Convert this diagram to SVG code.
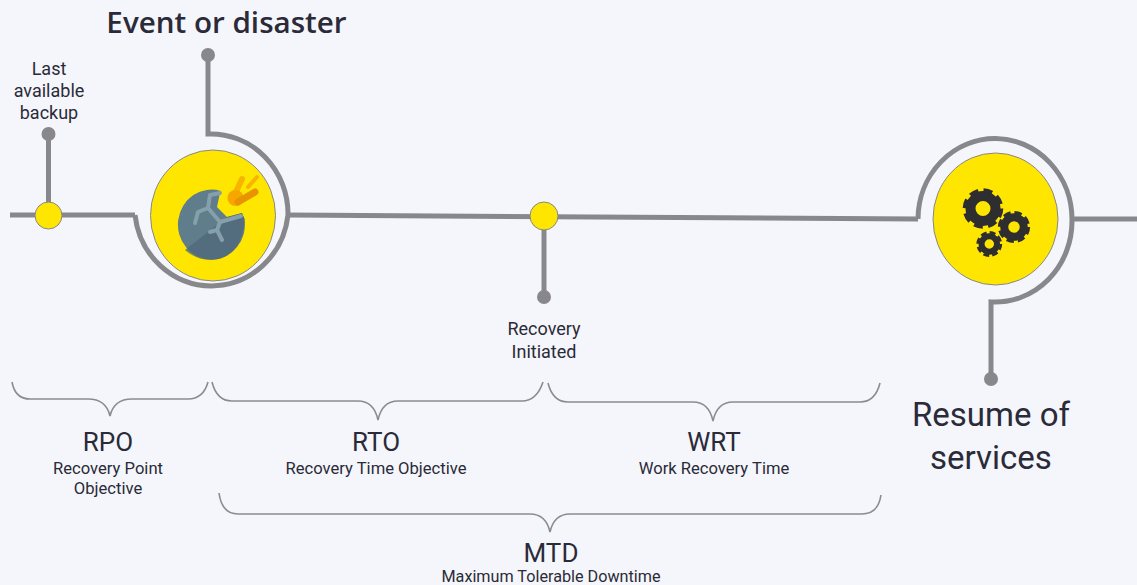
<svg xmlns="http://www.w3.org/2000/svg" width="1137" height="585" viewBox="0 0 1137 585">
<style>
.ln{fill:none;stroke:#87878c;stroke-width:5}
.br{fill:none;stroke:#8c8c90;stroke-width:1.6}
.dot{fill:#87878c}
.yl{fill:#ffe600;stroke:#87878c;stroke-width:1}
text{font-family:Roboto,"Liberation Sans",sans-serif;text-anchor:middle;fill:#2a2a38}
.s{font-size:18px}
.m{font-size:26px}
.t{font-size:16.6px}
.g{fill:none;stroke:#2e2e30}
</style>
<rect width="1137" height="585" fill="#f5f6fb"/>
<g id="connectors">
<path class="ln" d="M10 215H135"/>
<path class="ln" d="M48.500 134V215"/>
<path class="ln" d="M208 55V134A77 80 0 0 1 288 215A77 80 0 0 1 135 215"/>
<path class="ln" d="M288 215L918 219"/>
<path class="ln" d="M544 216V297"/>
<path class="ln" d="M918 219A77 81 0 0 1 1072 220A77 81 0 0 1 991 302V379"/>
<path class="ln" d="M1072 219H1137"/>
<path class="br" d="M12 382C14 393 20 399 30 399H88C98 399 107 403 110 416C113 403 122 399 132 399H188C198 399 205 393 208 382"/>
<path class="br" d="M212 382C215 394 222 401 232 401H358C368 401 375 406 378 420C381 406 388 401 398 401H522C532 401 539 394 543 382"/>
<path class="br" d="M548 383C551 395 558 402 568 402H693C703 402 710 407 713 421C716 407 723 402 733 402H860C870 402 877 395 880 383"/>
<path class="br" d="M219 493C221 508 228 514 238 514H530C540 514 547 519 550 532C553 519 560 514 570 514H862C872 514 879 508 881 495"/>
</g>
<g id="node-backup">
<circle class="dot" cx="48.500" cy="134" r="7"/>
<circle class="yl" cx="48.500" cy="215.500" r="13.500"/>
<text class="s"><tspan x="49" y="75">Last</tspan><tspan x="49" y="97">available</tspan><tspan x="49" y="119">backup</tspan></text>
</g>
<g id="node-event">
<circle class="dot" cx="208" cy="55" r="7"/>
<ellipse class="yl" cx="213" cy="215.500" rx="62.500" ry="65.500"/>
<path fill="#5f7d8a" d="M221 191A33.500 35 0 1 0 244.500 219L242 213L227 217L217 207L220 193Z"/>
<path fill="#50697a" opacity=".8" d="M185 250L227 217L242 213L244.500 219C244 243 231 260 211 260C201 260 192 256 185 250Z"/>
<path fill="none" stroke="#86a0ab" stroke-width="4" stroke-linecap="round" stroke-linejoin="round" d="M220 193L210 195L208 208L198 212L195 223M208 208L220 222L241 216M220 222L217 230L210 232M217 230L222 240"/>
<path fill="none" stroke="#f7b500" stroke-width="6" stroke-linecap="round" d="M236 192L242 179"/>
<path fill="none" stroke="#f7b500" stroke-width="4" stroke-linecap="round" d="M248 187L257 177"/>
<circle cx="235.500" cy="198" r="8" fill="#f7a600"/>
<path fill="none" stroke="#e89400" stroke-width="7" stroke-linecap="round" d="M238 202L255 192"/>
</g>
<g id="node-initiated">
<circle class="yl" cx="544" cy="216" r="14"/>
<circle class="dot" cx="544" cy="297" r="7"/>
<text class="s"><tspan x="544" y="335">Recovery</tspan><tspan x="544" y="358">Initiated</tspan></text>
</g>
<g id="node-resume">
<circle class="dot" cx="991" cy="379" r="7"/>
<ellipse class="yl" cx="995.500" cy="219" rx="62.500" ry="66"/>
<g class="g">
<circle cx="983" cy="208.500" r="12.500" stroke-width="10"/>
<circle cx="983" cy="208.500" r="18.300" stroke-width="4" stroke-dasharray="9 5.370"/>
<circle cx="1014" cy="227" r="9.750" stroke-width="8"/>
<circle cx="1014" cy="227" r="14.600" stroke-width="3" stroke-dasharray="7.500 3.970"/>
<circle cx="989.300" cy="244" r="7.750" stroke-width="6"/>
<circle cx="989.300" cy="244" r="11.600" stroke-width="2.600" stroke-dasharray="6 3.110"/>
</g>
</g>
<text id="t-event" x="226.500" y="33" style="font-family:'Open Sans',sans-serif;font-size:29.600px;font-weight:600">Event or disaster</text>
<text id="t-resume" style="font-size:33px"><tspan x="991" y="426">Resume of</tspan><tspan x="991" y="469">services</tspan></text>
<g id="rpo"><text class="m" x="108" y="451">RPO</text><text class="t"><tspan x="108" y="474">Recovery Point</tspan><tspan x="108" y="494">Objective</tspan></text></g>
<g id="rto"><text class="m" x="376" y="451">RTO</text><text class="t" x="376" y="474">Recovery Time Objective</text></g>
<g id="wrt"><text class="m" x="714" y="451">WRT</text><text class="t" x="714" y="474">Work Recovery Time</text></g>
<g id="mtd"><text class="m" x="551" y="562">MTD</text><text class="t" x="551" y="582" style="font-size:16.200px">Maximum Tolerable Downtime</text></g>
</svg>
